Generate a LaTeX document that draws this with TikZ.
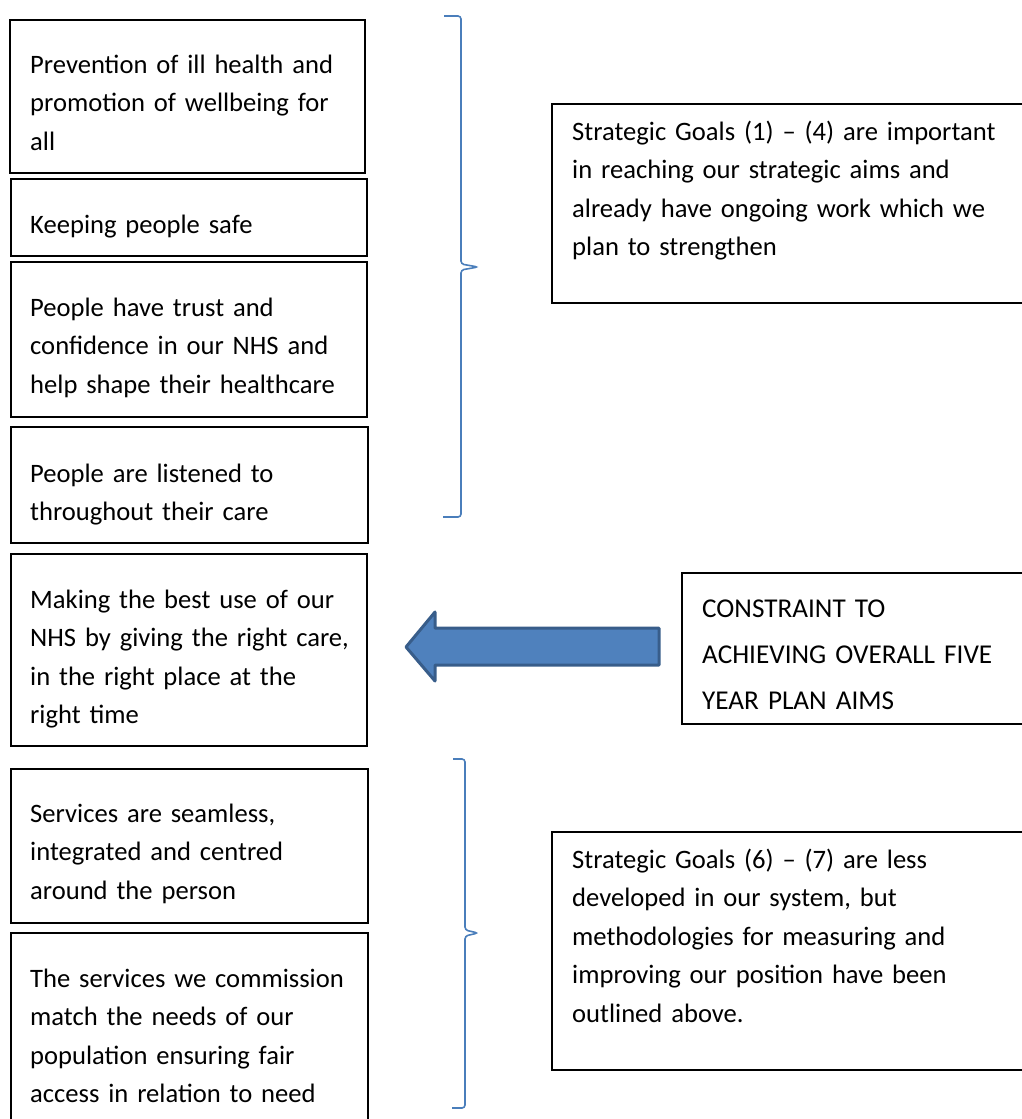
\documentclass[tikz,border=0pt]{standalone}
\usepackage{fontspec}
\setmainfont{Carlito}
\definecolor{bracecol}{HTML}{4A7EBB}
\definecolor{arrowfill}{HTML}{4F81BD}
\definecolor{arrowline}{HTML}{385D8A}
\tikzset{
  goal/.style={anchor=base west, inner sep=0pt, text width=500pt, align=left,
    font=\fontsize{26.6}{38.5}\selectfont},
  bigtext/.style={anchor=base west, inner sep=0pt, text width=400pt, align=left,
    font=\fontsize{27.2}{46}\selectfont},
  frame/.style={draw=black, line width=1.5pt},
  bracket/.style={draw=bracecol, line width=1.6pt, rounded corners=3pt}
}
\begin{document}
\begin{tikzpicture}[x=1pt,y=-1pt]
  \useasboundingbox (0,0) rectangle (1022,1119);

  % left column of goal boxes
  \foreach \xa/\ya/\xb/\yb in {10/20/365/173, 11/179/367/256, 11/262/367/417,
      11/427/368/543, 11/554/367/746, 11/769/368/923, 11/933/368/1130}{
    \draw[frame] (\xa,\ya) rectangle (\xb,\yb);
  }

  % goal texts
  \node[goal] (prevention) at (30,73)  {Prevention of ill health and\\promotion of wellbeing for\\all};
  \node[goal] (safe)       at (30,233) {Keeping people safe};
  \node[goal] (trust)      at (30,316) {People have trust and\\confidence in our NHS and\\help shape their healthcare};
  \node[goal] (listened)   at (30,482) {People are listened to\\throughout their care};
  \node[goal] (bestuse)    at (30,608) {Making the best use of our\\NHS by giving the right care,\\in the right place at the\\right time};
  \node[goal] (seamless)   at (30,822) {Services are seamless,\\integrated and centred\\around the person};
  \node[goal] (commission) at (30,987) {The services we commission\\match the needs of our\\population ensuring fair\\access in relation to need};

  % braces
  \draw[bracket] (444,16) -- (461,16) -- (461,264) -- (478,267) -- (461,270) -- (461,517) -- (443,517);
  \draw[bracket] (453,759) -- (465,759) -- (465,930) -- (478,933) -- (465,936) -- (465,1108) -- (452,1108);

  % right hand boxes (run off the page edge)
  \draw[frame] (552,104) rectangle (1030,303);
  \draw[frame] (682,573) rectangle (1030,724);
  \draw[frame] (552,832) rectangle (1030,1070);

  \node[goal] (aimsnote)   at (572,140) {Strategic Goals (1) – (4) are important\\in reaching our strategic aims and\\already have ongoing work which we\\plan to strengthen};
  \node[bigtext] (constraint) at (702,617) {CONSTRAINT TO\\ACHIEVING OVERALL FIVE\\YEAR PLAN AIMS};
  \node[goal] (lessnote)   at (572,868) {Strategic Goals (6) – (7) are less\\developed in our system, but\\methodologies for measuring and\\improving our position have been\\outlined above.};

  % block arrow
  \filldraw[fill=arrowfill, draw=arrowline, line width=3pt, line join=round]
    (406,647) -- (435,612) -- (435,628) -- (659,628) -- (659,665) -- (435,665) -- (435,681) -- cycle;
\end{tikzpicture}
\end{document}
